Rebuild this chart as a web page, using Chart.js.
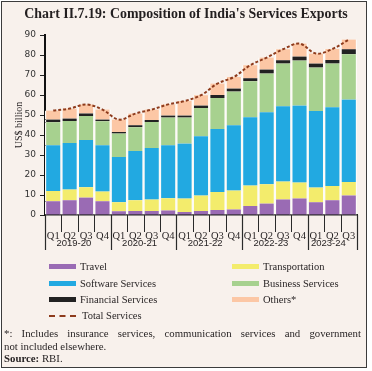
<!DOCTYPE html>
<html>
<head>
<meta charset="utf-8">
<script src="https://cdn.jsdelivr.net/npm/chart.js@4.4.1/dist/chart.umd.min.js"></script>
<style>
  body { margin: 0; width: 372px; height: 371px; overflow: hidden; position: relative; background: #fff; font-family: "Liberation Serif", serif; color: #231f20; }
  #frame { position: absolute; left: 1px; top: 1px; width: 366px; height: 367px; box-sizing: border-box; border: 1px solid #3c3c3c; background: #f8f1ec; }
  #chart { position: absolute; left: 0; top: 0; }
  .title { position: absolute; left: 0; top: 6px; width: 372px; text-align: center; font-weight: bold; font-size: 13.9px; }
  .item { position: absolute; font-size: 10.5px; line-height: 12px; white-space: nowrap; }
  .swatch { display: inline-block; width: 27px; height: 5px; vertical-align: middle; margin-right: 4px; position: relative; top: -1px; }
  .dash { display: inline-block; width: 27px; height: 0; border-top: 2px dashed #8e3b1c; vertical-align: middle; margin-right: 6px; position: relative; top: -1px; }
  .note { position: absolute; left: 4px; width: 357px; font-size: 10.8px; line-height: 13px; white-space: nowrap; }
  .justify { text-align: justify; text-align-last: justify; white-space: normal; }
</style>
</head>
<body>
<div id="frame"></div>
<canvas id="chart" width="372" height="371"></canvas>
<div class="title">Chart II.7.19: Composition of India's Services Exports</div>
<div id="legend"></div>
<div class="note justify" style="top:327px">*: Includes insurance services, communication services and government</div>
<div class="note" style="top:340px">not included elsewhere.</div>
<div class="note" style="top:352px"><b>Source:</b> RBI.</div>
<script>
const quarters = ['Q1', 'Q2', 'Q3', 'Q4', 'Q1', 'Q2', 'Q3', 'Q4', 'Q1', 'Q2', 'Q3', 'Q4',
                  'Q1', 'Q2', 'Q3', 'Q4', 'Q1', 'Q2', 'Q3'];
const years = ['2019-20', '2020-21', '2021-22', '2022-23', '2023-24'];
const yearSpans = [4, 4, 4, 4, 3];

// US$ billion
const travel = [6.9, 7.4, 8.7, 6.9, 1.9, 2.0, 2.0, 2.3, 1.5, 2.0, 2.5, 2.8, 4.5, 5.7, 7.8, 8.3, 6.4, 7.4, 9.8];
const transportation = [5.1, 5.3, 5.2, 4.8, 4.5, 5.4, 5.7, 6.1, 6.7, 7.7, 9.0, 9.4, 10.2, 9.7, 8.9, 7.9, 7.3, 7.1, 6.7];
const software = [22.9, 23.3, 23.6, 23.2, 22.6, 24.6, 25.8, 26.5, 27.5, 29.7, 31.5, 32.7, 34.2, 36.0, 37.7, 38.5, 38.3, 39.4, 41.2];
const business = [11.5, 11.0, 12.0, 12.0, 11.7, 11.9, 13.0, 13.8, 13.0, 14.1, 15.5, 16.8, 18.0, 19.3, 21.3, 22.5, 21.7, 21.8, 22.7];
const financial = [1.3, 1.2, 1.3, 0.8, 0.8, 1.0, 1.0, 1.0, 1.0, 1.2, 1.5, 1.5, 1.5, 2.0, 1.7, 2.0, 2.0, 1.8, 2.5];
const others = [4.5, 5.0, 4.5, 5.0, 6.2, 5.8, 5.2, 5.6, 7.3, 5.2, 5.7, 5.8, 6.5, 6.0, 5.5, 6.5, 5.0, 5.5, 4.8];
const totalServices = [52.2, 53.2, 55.3, 52.7, 47.7, 50.7, 52.7, 55.3, 57.0, 59.9, 65.7, 69.0, 74.9, 78.7, 82.9, 85.7, 80.7, 83.0, 87.7];

const barSeries = [
  { label: 'Travel', data: travel, color: '#9a6bb4' },
  { label: 'Transportation', data: transportation, color: '#f3ec6c' },
  { label: 'Software Services', data: software, color: '#22a9e1' },
  { label: 'Business Services', data: business, color: '#a7d18f' },
  { label: 'Financial Services', data: financial, color: '#222222' },
  { label: 'Others*', data: others, color: '#fcc7a5' }
];

// quarter ticks, year separators and year labels under the x axis
const yearAxis = {
  id: 'yearAxis',
  afterDraw(chart) {
    const { ctx, chartArea, scales: { x } } = chart;
    const half = (x.getPixelForValue(1) - x.getPixelForValue(0)) / 2;
    const bottom = chartArea.bottom;
    ctx.save();
    ctx.strokeStyle = '#2a2a2a';
    ctx.lineWidth = 1;
    for (let i = 0; i <= quarters.length; i++) {
      const px = Math.round(x.getPixelForValue(i) - half) + 0.5;
      ctx.beginPath();
      ctx.moveTo(px, bottom);
      ctx.lineTo(px, bottom + 17);
      ctx.stroke();
    }
    ctx.fillStyle = '#231f20';
    ctx.font = '9.5px "Liberation Sans", sans-serif';
    ctx.textAlign = 'center';
    ctx.textBaseline = 'middle';
    let start = 0;
    const edges = [0];
    yearSpans.forEach((n, k) => {
      const left = x.getPixelForValue(start) - half;
      const right = x.getPixelForValue(start + n) - half;
      ctx.fillText(years[k], (left + right) / 2 - 4, bottom + 28);
      start += n;
      edges.push(start);
    });
    ctx.lineWidth = 1.2;
    edges.forEach(i => {
      const px = Math.round(x.getPixelForValue(i) - half) + 0.5;
      ctx.beginPath();
      ctx.moveTo(px, bottom);
      ctx.lineTo(px, bottom + 35);
      ctx.stroke();
    });
    ctx.restore();
  }
};

const datasets = barSeries.map(s => ({
  type: 'bar',
  label: s.label,
  data: s.data,
  backgroundColor: s.color,
  borderColor: '#fdfbf8',
  borderWidth: { left: 1.5, right: 1.5, top: 0, bottom: 0 },
  barPercentage: 1,
  categoryPercentage: 1,
  stack: 'exports',
  order: 1
}));
datasets.push({
  type: 'line',
  label: 'Total Services',
  data: totalServices,
  borderColor: '#8e3b1c',
  borderWidth: 2,
  borderDash: [3, 2],
  pointRadius: 0,
  tension: 0.35,
  fill: false,
  stack: 'total',
  order: 0
});

new Chart(document.getElementById('chart').getContext('2d'), {
  data: { labels: quarters, datasets: datasets },
  plugins: [yearAxis],
  options: {
    responsive: false,
    animation: false,
    layout: { padding: { left: 0, top: 35, right: 15, bottom: 120 } },
    plugins: { legend: { display: false }, tooltip: { enabled: false } },
    scales: {
      x: {
        stacked: true,
        grid: { display: false },
        border: { display: true, color: '#222', width: 1.5 },
        ticks: { color: '#231f20', padding: 7, maxRotation: 0, autoSkip: false,
                 font: { family: '"Liberation Serif", serif', size: 10.5 } },
        afterFit(scale) { scale.height = 36; }
      },
      y: {
        stacked: true,
        min: 0,
        max: 90,
        ticks: { stepSize: 10, color: '#333', padding: 4,
                 font: { family: '"DejaVu Sans", sans-serif', size: 9 } },
        grid: { drawOnChartArea: false, tickLength: 5, color: '#222', lineWidth: 1 },
        border: { display: true, color: '#111', width: 2 },
        title: { display: true, text: 'US$ billion', color: '#231f20', padding: { top: 13 },
                 font: { family: '"Liberation Serif", serif', size: 10 } },
        afterFit(scale) { scale.width = 45; }
      }
    }
  }
});

// legend, two columns, built from the series list
const legend = document.getElementById('legend');
const colX = [49, 232];
const rowY = [261, 278, 294];
barSeries.forEach((s, i) => {
  const el = document.createElement('div');
  el.className = 'item';
  el.style.left = colX[i % 2] + 'px';
  el.style.top = rowY[Math.floor(i / 2)] + 'px';
  el.innerHTML = '<span class="swatch" style="background:' + s.color + '"></span>' + s.label;
  legend.appendChild(el);
});
const totalItem = document.createElement('div');
totalItem.className = 'item';
totalItem.style.left = colX[0] + 'px';
totalItem.style.top = '310px';
totalItem.innerHTML = '<span class="dash"></span>Total Services';
legend.appendChild(totalItem);
</script>
</body>
</html>
